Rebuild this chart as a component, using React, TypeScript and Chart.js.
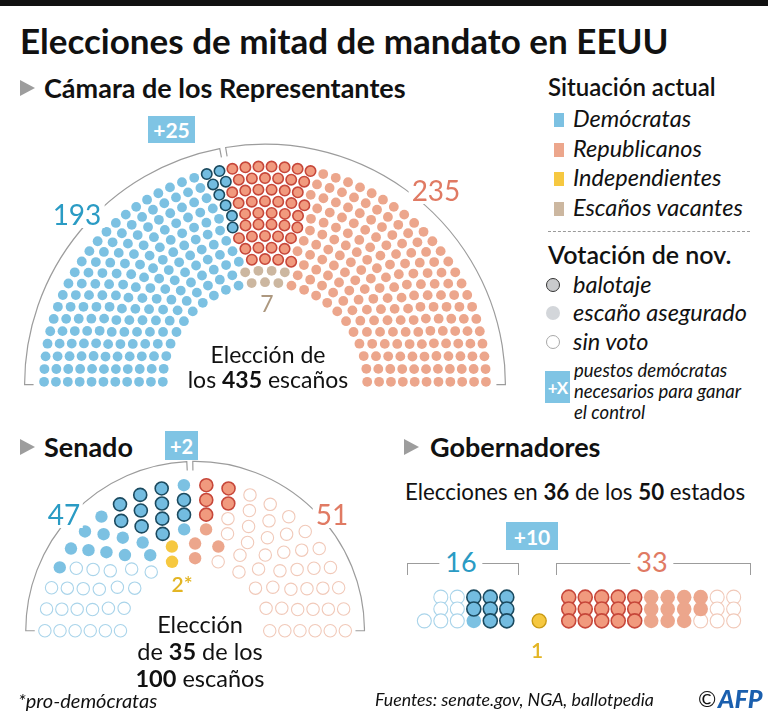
import React, { useEffect, useRef } from "react";
import { Chart, registerables } from "chart.js";
Chart.register(...registerables);

// ---------------- DATA ----------------
const houseGroups = ["Demócratas", "Republicanos", "Escaños vacantes"];
const houseSeats = [193, 235, 7];
const houseTossUp = [8, 48, 0];
const houseTotal = 435;
const houseNeeded = 25;

const senateGroups = ["Demócratas", "Republicanos", "Independientes"];
const senateSeats = [47, 51, 2];
const senateUp = [24, 9, 2];
const senateTossUp = [11, 5, 0];
const senateTotal = 100;
const senateUpTotal = 35;
const senateNeeded = 2;

const govGroups = ["Demócratas", "Republicanos", "Independientes"];
const govSeats = [16, 33, 1];
const govUp = [9, 26, 1];
const govTossUp = [8, 15, 1];
const govTotal = 50;
const govUpTotal = 36;
const govNeeded = 10;

const legendCurrent = ["Demócratas", "Republicanos", "Independientes", "Escaños vacantes"];
const legendVote = ["balotaje", "escaño asegurado", "sin voto"];

// ---------------- STYLE ----------------
const C = {
  dem: "#7cc1e2",
  demToss: "#73bce0",
  demEdge: "#1b4a5f",
  demHollow: "#a9d4ea",
  rep: "#eca68c",
  repToss: "#f19a7e",
  repEdge: "#c7473a",
  repHollow: "#f1c9b9",
  ind: "#f6c840",
  indEdge: "#c99a14",
  vac: "#ccb7a0",
  demText: "#2a9bc4",
  repText: "#e07a63",
  indText: "#e3b524",
  vacText: "#ad987f",
  frame: "#9c9c9c",
  box: "#7fc4e4",
};
const FONT = "Lato, 'Noto Sans', sans-serif";

type Seat = { x: number; y: number; a: number; r: number };

function hemicycle(total: number, rows: number, rIn: number, rOut: number): Seat[] {
  const radii = Array.from({ length: rows }, (_, i) => rIn + (i * (rOut - rIn)) / (rows - 1));
  const sumR = radii.reduce((s, r) => s + r, 0);
  const counts = radii.map((r) => Math.round((total * r) / sumR));
  let diff = total - counts.reduce((s, c) => s + c, 0);
  let k = rows - 1;
  while (diff !== 0) {
    counts[k] += Math.sign(diff);
    diff -= Math.sign(diff);
    k = (k - 1 + rows) % rows;
  }
  const seats: Seat[] = [];
  radii.forEach((r, i) => {
    const n = counts[i];
    for (let j = 0; j < n; j++) {
      const a = Math.PI * (1 - j / (n - 1));
      seats.push({ x: r * Math.cos(a), y: r * Math.sin(a), a, r });
    }
  });
  seats.sort((p, q) => q.a - p.a || q.r - p.r);
  return seats;
}

function ds(label: string, pts: { x: number; y: number }[], fill: string, edge: string, r: number, bw: number) {
  return {
    label,
    data: pts.map((p) => ({ x: p.x, y: p.y })),
    pointRadius: r,
    pointHoverRadius: r,
    pointBackgroundColor: fill,
    pointBorderColor: edge,
    pointBorderWidth: bw,
    pointHoverBorderWidth: bw,
    showLine: false,
    clip: false,
  };
}

function frame(R: number, cy: number, gapAngle: number, tick: number) {
  return {
    id: "frame",
    beforeDatasetsDraw(chart: any) {
      const { ctx } = chart;
      const x = chart.scales.x;
      const y = chart.scales.y;
      const cx = x.getPixelForValue(0);
      const cyp = y.getPixelForValue(cy);
      const rp = x.getPixelForValue(R) - cx;
      const g = 3 / rp;
      ctx.save();
      ctx.strokeStyle = C.frame;
      ctx.lineWidth = 1.2;
      const a1 = gapAngle + g;
      const a2 = gapAngle - g;
      ctx.beginPath();
      ctx.moveTo(cx - rp + tick, cyp);
      ctx.lineTo(cx - rp, cyp);
      ctx.arc(cx, cyp, rp, -Math.PI, -a1, false);
      ctx.lineTo(cx + (rp - tick) * Math.cos(a1), cyp - (rp - tick) * Math.sin(a1));
      ctx.stroke();
      ctx.beginPath();
      ctx.moveTo(cx + (rp - tick) * Math.cos(a2), cyp - (rp - tick) * Math.sin(a2));
      ctx.lineTo(cx + rp * Math.cos(a2), cyp - rp * Math.sin(a2));
      ctx.arc(cx, cyp, rp, -a2, 0, false);
      ctx.lineTo(cx + rp - tick, cyp);
      ctx.stroke();
      ctx.restore();
    },
  };
}

function DotChart(props: {
  left: number; top: number; width: number; height: number;
  xmin: number; xmax: number; ymin: number; ymax: number; reverse?: boolean;
  datasets: any[]; plugins?: any[];
}) {
  const ref = useRef<HTMLCanvasElement>(null);
  useEffect(() => {
    const chart = new Chart(ref.current as HTMLCanvasElement, {
      type: "scatter",
      data: { datasets: props.datasets },
      options: {
        animation: false,
        responsive: false,
        events: [],
        layout: { padding: 0 },
        plugins: { legend: { display: false }, tooltip: { enabled: false }, title: { display: false } },
        scales: {
          x: { type: "linear", display: false, min: props.xmin, max: props.xmax },
          y: { type: "linear", display: false, min: props.ymin, max: props.ymax, reverse: !!props.reverse },
        },
      },
      plugins: props.plugins || [],
    } as any);
    return () => chart.destroy();
  }, []);
  return (
    <canvas
      ref={ref}
      width={props.width}
      height={props.height}
      style={{ position: "absolute", left: props.left, top: props.top, width: props.width, height: props.height }}
    />
  );
}

// ---------------- HOUSE ----------------
function houseDatasets() {
  const hs = hemicycle(houseTotal, 11, 105, 227);
  const [nD, , nV] = houseSeats;
  const dAll = hs.slice(0, nD);
  const tail = dAll.slice(nD - 12).sort((p, q) => q.r - p.r);
  const demToss = tail.slice(0, houseTossUp[0]);
  const dem = dAll.slice(0, nD - 12).concat(tail.slice(houseTossUp[0]));
  const wedgeN = houseTossUp[1] + nV;
  const wedge = hs.slice(nD, nD + wedgeN).sort((p, q) => p.r - q.r);
  const vac = wedge.slice(0, nV);
  const repToss = wedge.slice(nV);
  const rep = hs.slice(nD + wedgeN);
  return [
    ds(houseGroups[0], dem, C.dem, C.dem, 4.9, 0),
    ds(houseGroups[0] + " balotaje", demToss, C.demToss, C.demEdge, 5.2, 1.6),
    ds(houseGroups[2], vac, C.vac, C.vac, 4.9, 0),
    ds(houseGroups[1] + " balotaje", repToss, C.repToss, C.repEdge, 5.2, 1.6),
    ds(houseGroups[1], rep, C.rep, C.rep, 4.9, 0),
  ];
}

// ---------------- SENATE ----------------
function senateDatasets() {
  const rIn = 78, rOut = 157;
  const ss = hemicycle(senateTotal, 6, rIn, rOut);
  const nLeft = senateSeats[0] + senateSeats[2];
  const left = ss.slice(0, nLeft);
  const right = ss.slice(nLeft);
  const byY = [...left].sort((p, q) => p.y - q.y);
  const demHollowN = senateSeats[0] - senateUp[0];
  const demHollow = byY.slice(0, demHollowN);
  let up = byY.slice(demHollowN);
  const d0 = (p: Seat, tx: number, ty: number) => (p.x - tx) ** 2 + (p.y - ty) ** 2;
  up.sort((p, q) => d0(p, 0, rIn) - d0(q, 0, rIn));
  const ind = up.slice(0, senateUp[2]);
  up = up.slice(senateUp[2]);
  up.sort((p, q) => d0(p, -45, rOut - 22) - d0(q, -45, rOut - 22));
  const demToss = up.slice(0, senateTossUp[0]);
  const dem = up.slice(senateTossUp[0]);
  const rUp = right.slice(0, senateUp[1]).sort((p, q) => q.r - p.r);
  const repToss = rUp.slice(0, senateTossUp[1]);
  const rep = rUp.slice(senateTossUp[1]);
  const repHollow = right.slice(senateUp[1]);
  return [
    ds(senateGroups[0] + " sin voto", demHollow, "#ffffff", C.demHollow, 6.2, 1.1),
    ds(senateGroups[0], dem, C.dem, C.dem, 6.2, 0),
    ds(senateGroups[0] + " balotaje", demToss, C.demToss, C.demEdge, 6.5, 1.6),
    ds(senateGroups[2], ind, C.ind, C.ind, 6.2, 0),
    ds(senateGroups[1] + " balotaje", repToss, C.repToss, C.repEdge, 6.5, 1.6),
    ds(senateGroups[1], rep, C.rep, C.rep, 6.2, 0),
    ds(senateGroups[1] + " sin voto", repHollow, "#ffffff", C.repHollow, 6.2, 1.1),
  ];
}

// ---------------- GOVERNORS ----------------
function grid(n: number, x0: number, dx: number, y0: number, dy: number, rows = 3) {
  const pts: { x: number; y: number }[] = [];
  const full = Math.floor(n / rows) * rows;
  const rem = n - full;
  for (let k = 0; k < n; k++) {
    const col = Math.floor(k / rows);
    let row = k % rows;
    if (k >= full) row += rows - rem;
    pts.push({ x: x0 + col * dx, y: y0 + row * dy });
  }
  return pts;
}
function govDatasets() {
  const sp = 17.3, dy = 16.6, y0 = 12;
  const d = grid(govSeats[0], 103, -sp, y0, dy);
  const r = grid(govSeats[1], 168, sp, y0, dy);
  const i = grid(govSeats[2], 137, sp, y0, dy);
  const rSafe = govUp[1] - govTossUp[1];
  return [
    ds(govGroups[0] + " balotaje", d.slice(0, govTossUp[0]), C.demToss, C.demEdge, 7.0, 1.6),
    ds(govGroups[0], d.slice(govTossUp[0], govUp[0]), C.dem, C.dem, 7.3, 0),
    ds(govGroups[0] + " sin voto", d.slice(govUp[0]), "#ffffff", C.demHollow, 7.0, 1.1),
    ds(govGroups[1] + " balotaje", r.slice(0, govTossUp[1]), C.repToss, C.repEdge, 7.0, 1.6),
    ds(govGroups[1], r.slice(govTossUp[1], govTossUp[1] + rSafe), C.rep, C.rep, 7.3, 0),
    ds(govGroups[1] + " sin voto", r.slice(govUp[1]), "#ffffff", C.repHollow, 7.0, 1.1),
    ds(govGroups[2], i, C.ind, C.indEdge, 7.0, 1.4),
  ];
}

// ---------------- TEXT HELPERS ----------------
function T(props: {
  x: number; y: number; size: number; children: any; weight?: number; italic?: boolean;
  color?: string; center?: boolean; bg?: string; pad?: number;
}) {
  const { x, y, size } = props;
  return (
    <div
      style={{
        position: "absolute",
        left: x,
        top: y - size * 0.55,
        fontSize: size,
        lineHeight: `${size}px`,
        fontWeight: props.weight || 400,
        fontStyle: props.italic ? "italic" : "normal",
        color: props.color || "#111",
        whiteSpace: "nowrap",
        transform: props.center ? "translateX(-50%)" : undefined,
        background: props.bg,
        padding: props.pad ? `0 ${props.pad}px` : undefined,
        fontFamily: FONT,
      }}
    >
      {props.children}
    </div>
  );
}
function Box(props: { x: number; y: number; w: number; h: number; text: string; size: number; ls?: number }) {
  return (
    <div
      style={{
        position: "absolute", left: props.x, top: props.y, width: props.w, height: props.h,
        background: C.box, color: "#fff", fontWeight: 700, fontSize: props.size, fontFamily: FONT,
        display: "flex", alignItems: "center", justifyContent: "center", letterSpacing: props.ls || 0,
        whiteSpace: "nowrap",
      }}
    >
      {props.text}
    </div>
  );
}
function Tri(props: { x: number; y: number }) {
  return (
    <div
      style={{
        position: "absolute", left: props.x, top: props.y, width: 0, height: 0,
        borderTop: "8px solid transparent", borderBottom: "8px solid transparent",
        borderLeft: "15px solid #9d9d9d",
      }}
    />
  );
}
function Bracket(props: { x: number; w: number; y: number }) {
  return (
    <div
      style={{
        position: "absolute", left: props.x, top: props.y, width: props.w, height: 11,
        borderTop: "1.2px solid #9c9c9c", borderLeft: "1.2px solid #9c9c9c", borderRight: "1.2px solid #9c9c9c",
      }}
    />
  );
}
function Dot(props: { x: number; y: number; fill: string; edge?: string }) {
  return (
    <div
      style={{
        position: "absolute", left: props.x - 7, top: props.y - 7, width: 14, height: 14, borderRadius: "50%",
        background: props.fill, boxSizing: "border-box",
        border: props.edge ? `1.6px solid ${props.edge}` : undefined,
      }}
    />
  );
}

export default function App() {
  const legendColors = [C.dem, C.rep, C.ind, C.vac];
  const houseGap = Math.PI * (1 - houseSeats[0] / houseTotal);
  const senateGap = Math.PI * (1 - (senateSeats[0] + senateSeats[2]) / senateTotal);
  return (
    <div style={{ position: "fixed", left: 0, top: 0, width: 768, height: 726, background: "#fff", overflow: "hidden", fontFamily: FONT }}>
      <div style={{ position: "absolute", left: 0, top: 0, width: 768, height: 6, background: "#111" }} />
      <T x={20} y={42} size={35} weight={700}>Elecciones de mitad de mandato en EEUU</T>

      {/* House */}
      <Tri x={20} y={80} />
      <T x={44} y={89} size={27} weight={700}>Cámara de los Representantes</T>
      <DotChart
        left={10} top={135} width={510} height={265}
        xmin={-255} xmax={255} ymin={-12} ymax={253}
        datasets={houseDatasets()}
        plugins={[frame(247, -3, houseGap, 9)]}
      />
      <Box x={148} y={116} w={47} h={27} text={`+${houseNeeded}`} size={21} />
      <T x={77} y={215} size={28} color={C.demText} center bg="#fff" pad={3}>{houseSeats[0]}</T>
      <T x={436} y={191} size={28} color={C.repText} center bg="#fff" pad={3}>{houseSeats[1]}</T>
      <T x={267} y={305} size={23} color={C.vacText} center>{houseSeats[2]}</T>
      <T x={268} y={356} size={23} center>Elección de</T>
      <T x={268} y={381} size={23} center>los <b>{houseTotal}</b> escaños</T>

      {/* Legend */}
      <T x={548} y={88} size={24} weight={600}>Situación actual</T>
      {legendCurrent.map((l, i) => (
        <React.Fragment key={l}>
          <div style={{ position: "absolute", left: 554, top: 113 + i * 29.5, width: 10, height: 14, background: legendColors[i] }} />
          <T x={573} y={120 + i * 29.5} size={23.5} italic>{l}</T>
        </React.Fragment>
      ))}
      <div style={{ position: "absolute", left: 548, top: 231, width: 202, borderTop: "1px dashed #9a9a9a" }} />
      <T x={548} y={256} size={25} weight={600}>Votación de nov.</T>
      <Dot x={553} y={285} fill="#c9cacc" edge="#333" />
      <Dot x={553} y={313} fill="#d3d6da" />
      <Dot x={553} y={342} fill="#fff" edge="#a8a8a8" />
      {legendVote.map((l, i) => (
        <T key={l} x={573} y={286 + i * 28.3} size={23.5} italic>{l}</T>
      ))}
      <Box x={545} y={371} w={25} h={32} text="+X" size={17} ls={-0.8} />
      <T x={574} y={371} size={18.5} italic>puestos demócratas</T>
      <T x={574} y={392} size={18.5} italic>necesarios para ganar</T>
      <T x={574} y={413} size={18.5} italic>el control</T>

      {/* Senate */}
      <Tri x={20} y={439} />
      <T x={44} y={448} size={27} weight={700}>Senado</T>
      <DotChart
        left={10} top={420} width={375} height={230}
        xmin={-185} xmax={190} ymin={-12} ymax={218}
        datasets={senateDatasets()}
        plugins={[frame(177, 0, senateGap, 9)]}
      />
      <Box x={165} y={431} w={33} h={29} text={`+${senateNeeded}`} size={20} />
      <T x={64} y={515} size={28} color={C.demText} center bg="#fff" pad={3}>{senateSeats[0]}</T>
      <T x={332} y={515} size={28} color={C.repText} center bg="#fff" pad={3}>{senateSeats[1]}</T>
      <T x={182} y={585} size={21} color={C.indText} center weight={600}>{senateSeats[2]}*</T>
      <T x={200} y={626} size={23.5} center>Elección</T>
      <T x={200} y={653} size={23.5} center>de <b>{senateUpTotal}</b> de los</T>
      <T x={200} y={680} size={23.5} center><b>{senateTotal}</b> escaños</T>
      <T x={18} y={701} size={20} italic>*pro-demócratas</T>

      {/* Governors */}
      <Tri x={404} y={439} />
      <T x={430} y={448} size={27} weight={700}>Gobernadores</T>
      <T x={405} y={493} size={22.3}>Elecciones en <b>{govUpTotal}</b> de los <b>{govTotal}</b> estados</T>
      <Box x={506} y={522} w={52} h={28} text={`+${govNeeded}`} size={21} />
      <Bracket x={407} w={110} y={563} />
      <Bracket x={556} w={193} y={563} />
      <T x={461} y={563} size={27} color={C.demText} center bg="#fff" pad={6}>{govSeats[0]}</T>
      <T x={652} y={563} size={27} color={C.repText} center bg="#fff" pad={6}>{govSeats[1]}</T>
      <DotChart
        left={400} top={580} width={368} height={60}
        xmin={0} xmax={368} ymin={0} ymax={60} reverse
        datasets={govDatasets()}
      />
      <T x={537} y={651} size={21} color={C.indText} center weight={600}>{govSeats[2]}</T>
      <T x={375} y={701} size={17.8} italic>Fuentes: senate.gov, NGA, ballotpedia</T>
      <T x={698} y={700} size={22}>©</T>
      <T x={718} y={700} size={25} weight={900} italic color="#1a5fae">AFP</T>
    </div>
  );
}
